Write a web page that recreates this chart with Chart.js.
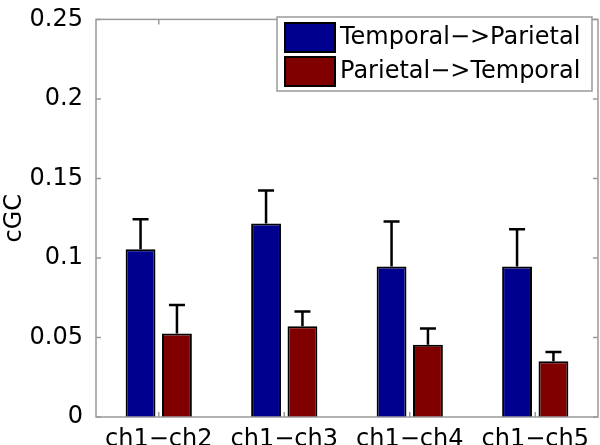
<!DOCTYPE html>
<html lang="en">
<head>
  <meta charset="UTF-8" />
  <title>cGC bar chart</title>
  <script src="https://cdn.jsdelivr.net/npm/chart.js"></script>
  <style>
    html, body { margin: 0; padding: 0; background: #fff; }
    #wrap { width: 600px; height: 445px; }
  </style>
</head>
<body>
  <div id="wrap">
    <canvas id="cgcChart" width="600" height="445"></canvas>
  </div>

  <script>
    // data
    const categories = ['ch1\u2212ch2', 'ch1\u2212ch3', 'ch1\u2212ch4', 'ch1\u2212ch5'];
    const seriesNames = ['Temporal\u2212>Parietal', 'Parietal\u2212>Temporal'];
    const tempToPar = [0.1055, 0.1217, 0.0946, 0.0946];
    const tempToParErr = [0.0189, 0.0207, 0.0284, 0.0234];
    const parToTemp = [0.0525, 0.0571, 0.0454, 0.0351];
    const parToTempErr = [0.0179, 0.0092, 0.0102, 0.0057];
    const yTicks = [0, 0.05, 0.1, 0.15, 0.2, 0.25];

    const errors = [tempToParErr, parToTempErr];
    const axisGrey = '#9a9a9a';

    Chart.defaults.font.family = '"DejaVu Sans", sans-serif';
    Chart.defaults.font.size = 24;
    Chart.defaults.color = '#000';

    // upward error bars
    const errorBars = {
      id: 'errorBars',
      afterDatasetsDraw(chart) {
        const ctx = chart.ctx;
        const y = chart.scales.y;
        ctx.save();
        ctx.strokeStyle = '#000';
        ctx.lineWidth = 2.5;
        chart.data.datasets.forEach((ds, di) => {
          const meta = chart.getDatasetMeta(di);
          meta.data.forEach((bar, i) => {
            const top = y.getPixelForValue(ds.data[i] + errors[di][i]);
            ctx.beginPath();
            ctx.moveTo(bar.x, bar.y);
            ctx.lineTo(bar.x, top);
            ctx.moveTo(bar.x - 8, top);
            ctx.lineTo(bar.x + 8, top);
            ctx.stroke();
          });
        });
        ctx.restore();
      }
    };

    // box around the axes with inward ticks, and the legend in the corner
    const boxAndLegend = {
      id: 'boxAndLegend',
      afterDraw(chart) {
        const ctx = chart.ctx;
        const a = chart.chartArea;
        const xs = chart.scales.x;
        const ys = chart.scales.y;
        ctx.save();
        ctx.strokeStyle = axisGrey;
        ctx.lineWidth = 1.5;
        ctx.strokeRect(a.left, a.top, a.right - a.left, a.bottom - a.top);

        ctx.beginPath();
        ys.ticks.forEach((t, i) => {
          const py = ys.getPixelForTick(i);
          ctx.moveTo(a.left, py); ctx.lineTo(a.left + 5, py);
          ctx.moveTo(a.right, py); ctx.lineTo(a.right - 5, py);
        });
        xs.ticks.forEach((t, i) => {
          const px = xs.getPixelForTick(i);
          ctx.moveTo(px, a.top); ctx.lineTo(px, a.top + 5);
          ctx.moveTo(px, a.bottom); ctx.lineTo(px, a.bottom - 5);
        });
        ctx.stroke();

        // legend
        const lx = 277, ly = 17, lw = 315, lh = 74;
        ctx.fillStyle = '#fff';
        ctx.fillRect(lx, ly, lw, lh);
        ctx.strokeRect(lx, ly, lw, lh);
        ctx.font = '24px "DejaVu Sans", sans-serif';
        ctx.textBaseline = 'middle';
        chart.data.datasets.forEach((ds, i) => {
          const rowY = ly + 6 + i * 34;
          ctx.fillStyle = ds.backgroundColor;
          ctx.fillRect(lx + 8, rowY, 50, 29);
          ctx.strokeStyle = '#000';
          ctx.lineWidth = 2;
          ctx.strokeRect(lx + 8, rowY, 50, 29);
          ctx.fillStyle = '#000';
          ctx.fillText(ds.label, lx + 63, rowY + 15);
        });
        ctx.restore();
      }
    };

    new Chart(document.getElementById('cgcChart'), {
      type: 'bar',
      data: {
        labels: categories,
        datasets: [
          {
            label: seriesNames[0],
            data: tempToPar,
            backgroundColor: '#00008f',
            borderColor: '#000',
            borderWidth: 2,
            categoryPercentage: 0.58,
            barPercentage: 0.82
          },
          {
            label: seriesNames[1],
            data: parToTemp,
            backgroundColor: '#800000',
            borderColor: '#000',
            borderWidth: 2,
            categoryPercentage: 0.58,
            barPercentage: 0.82
          }
        ]
      },
      options: {
        responsive: false,
        animation: false,
        layout: { padding: { top: 11, right: 2, left: 0, bottom: 0 } },
        plugins: {
          legend: { display: false },
          tooltip: { enabled: false }
        },
        scales: {
          x: {
            grid: { display: false },
            border: { display: false },
            ticks: { padding: 0, maxRotation: 0, autoSkip: false },
            afterFit(scale) { scale.height = 28; }
          },
          y: {
            min: 0,
            max: 0.25,
            grid: { display: false },
            border: { display: false },
            title: { display: true, text: 'cGC', padding: 0 },
            afterBuildTicks(scale) { scale.ticks = yTicks.map(v => ({ value: v })); },
            ticks: {
              padding: 5,
              callback: v => String(+v.toFixed(2))
            },
            afterFit(scale) { scale.width = 96; }
          }
        }
      },
      plugins: [errorBars, boxAndLegend]
    });
  </script>
</body>
</html>
